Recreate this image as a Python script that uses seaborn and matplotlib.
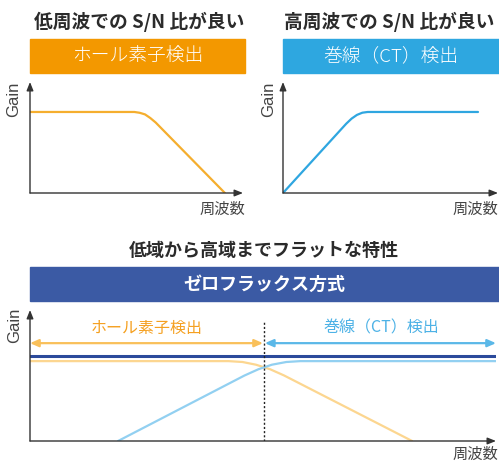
import matplotlib
matplotlib.use("Agg")
import matplotlib.pyplot as plt
import seaborn as sns

sns.set_style("white")
plt.rcParams["font.family"] = ["Noto Sans CJK JP", "DejaVu Sans"]

# ---- data ----
# Hall-element detection: flat gain at low frequency, rolls off at high frequency
hall_freq = [0.0, 4.9, 5.15, 5.4, 5.65, 5.9, 9.15]
hall_gain = [1.0, 1.0, 0.99, 0.97, 0.925, 0.87, 0.0]

# Coil (CT) detection: rises with frequency, flat at high frequency
ct_freq = [0.0, 2.94, 3.19, 3.44, 3.69, 3.94, 9.07]
ct_gain = [0.0, 0.855, 0.918, 0.964, 0.991, 1.0, 1.0]

# Zero-flux: both combined
zf_hall_freq = [0.0, 4.26, 4.56, 4.85, 5.15, 5.45, 8.2]
zf_hall_gain = [1.0, 1.0, 0.989, 0.955, 0.899, 0.821, 0.0]
zf_ct_freq = [1.89, 4.6, 4.9, 5.19, 5.5, 5.8, 10.0]
zf_ct_gain = [0.0, 0.819, 0.898, 0.955, 0.989, 1.0, 1.0]
zf_freq = [0.0, 10.0]
zf_gain = [1.06, 1.06]
crossover = 5.02

titles = ["低周波での S/N 比が良い", "高周波での S/N 比が良い", "低域から高域までフラットな特性"]
banners = ["ホール素子検出", "巻線（CT）検出", "ゼロフラックス方式"]
ylabel = "Gain"
xlabel = "周波数"

ORANGE = "#F39800"
BLUE = "#2EA7E0"
NAVY = "#3B5AA4"
TEXT = "#2B2B2B"
LABEL = "#444444"
AXIS = "#333333"

W, H = 499, 463
fig = plt.figure(figsize=(W / 100, H / 100), dpi=100)


def fx(px):
    return px / W


def fy(py):
    return 1 - py / H


def add_axes(x0, x1, ytop, ybot):
    ax = fig.add_axes([fx(x0), fy(ybot), (x1 - x0) / W, (ybot - ytop) / H])
    for s in ax.spines.values():
        s.set_visible(False)
    ax.set_xticks([])
    ax.set_yticks([])
    ax.patch.set_alpha(0)
    # axis arrows
    ax.annotate("", xy=(1, 0), xytext=(0, 0), xycoords="axes fraction",
                arrowprops=dict(arrowstyle="-|>,head_length=0.5,head_width=0.2",
                                color=AXIS, lw=1.0, shrinkA=0, shrinkB=0))
    ax.annotate("", xy=(0, 1), xytext=(0, 0), xycoords="axes fraction",
                arrowprops=dict(arrowstyle="-|>,head_length=0.5,head_width=0.2",
                                color=AXIS, lw=1.0, shrinkA=0, shrinkB=0))
    return ax


def finish_axes(ax):
    ax.set_xlabel("")
    ax.set_ylabel("")
    ax.set_xticks([])
    ax.set_yticks([])


def banner(x0, x1, y0, y1, color, text, bold=False):
    fig.patches.append(plt.Rectangle((fx(x0), fy(y1)), (x1 - x0) / W, (y1 - y0) / H,
                                     transform=fig.transFigure, color=color, zorder=0))
    fig.text(fx((x0 + x1) / 2), fy((y0 + y1) / 2), text, color="white",
             fontsize=13.5 if not bold else 13, ha="center", va="center",
             fontweight="bold" if bold else "light")


def gain_label(px, py):
    fig.text(fx(px), fy(py), ylabel, rotation=90, fontsize=12, color=LABEL,
             ha="center", va="center", family="Liberation Sans")


def freq_label(px, py):
    fig.text(fx(px), fy(py), xlabel, fontsize=11, color=LABEL,
             ha="center", va="center")


# ---- top left: Hall element ----
fig.text(fx(139), fy(22), titles[0], fontsize=13.5, fontweight="bold",
         color=TEXT, ha="center", va="center")
banner(30, 245, 39, 73, ORANGE, banners[0])
ax1 = add_axes(30, 243, 82, 193)
sns.lineplot(x=hall_freq, y=hall_gain, ax=ax1, color="#F5AE2E", lw=1.6,
             sort=False, estimator=None)
ax1.set_xlim(0, 10)
ax1.set_ylim(0, 1.37)
finish_axes(ax1)
gain_label(14, 99)
freq_label(222, 209)

# ---- top right: coil (CT) ----
fig.text(fx(389), fy(22), titles[1], fontsize=13.5, fontweight="bold",
         color=TEXT, ha="center", va="center")
banner(283, 499, 39, 73, BLUE, banners[1])
ax2 = add_axes(283, 498, 82, 193)
sns.lineplot(x=ct_freq, y=ct_gain, ax=ax2, color="#2FA6E0", lw=1.6,
             sort=False, estimator=None)
ax2.set_xlim(0, 10)
ax2.set_ylim(0, 1.37)
finish_axes(ax2)
gain_label(269, 99)
freq_label(475, 209)

# ---- bottom: zero-flux ----
fig.text(fx(264), fy(250), titles[2], fontsize=13, fontweight="bold",
         color=TEXT, ha="center", va="center")
banner(30, 499, 267, 301, NAVY, banners[2], bold=True)
ax3 = add_axes(30, 496, 310, 441)
ax3.set_xlim(0, 10)
ax3.set_ylim(0, 1.64)
sns.lineplot(x=zf_hall_freq, y=zf_hall_gain, ax=ax3, color="#FCD690", lw=1.6,
             sort=False, estimator=None)
sns.lineplot(x=zf_ct_freq, y=zf_ct_gain, ax=ax3, color="#92D0F1", lw=1.6,
             sort=False, estimator=None)
sns.lineplot(x=zf_freq, y=zf_gain, ax=ax3, color="#2B4A9B", lw=2.2,
             sort=False, estimator=None)
ax3.axvline(crossover, ymin=0, ymax=1.5 / 1.64, color="#222222", lw=1.0,
            ls=(0, (1.5, 1.5)))
arrow_y = 1.225
ax3.annotate("", xy=(0, arrow_y), xytext=(crossover - 0.02, arrow_y),
             arrowprops=dict(arrowstyle="<|-|>,head_length=0.5,head_width=0.22",
                             color="#F9C05A", lw=1.6, shrinkA=0, shrinkB=0))
ax3.annotate("", xy=(crossover + 0.02, arrow_y), xytext=(10.0, arrow_y),
             arrowprops=dict(arrowstyle="<|-|>,head_length=0.5,head_width=0.22",
                             color="#5BB8E8", lw=1.6, shrinkA=0, shrinkB=0))
ax3.text(crossover / 2, 1.41, banners[0], color="#F5A020", fontsize=11.5,
         ha="center", va="center")
ax3.text(7.55, 1.41, banners[1], color="#4DB2E6", fontsize=11.5,
         ha="center", va="center")
finish_axes(ax3)
gain_label(15, 325)
freq_label(475, 454)

fig.savefig("out.png", dpi=100)
